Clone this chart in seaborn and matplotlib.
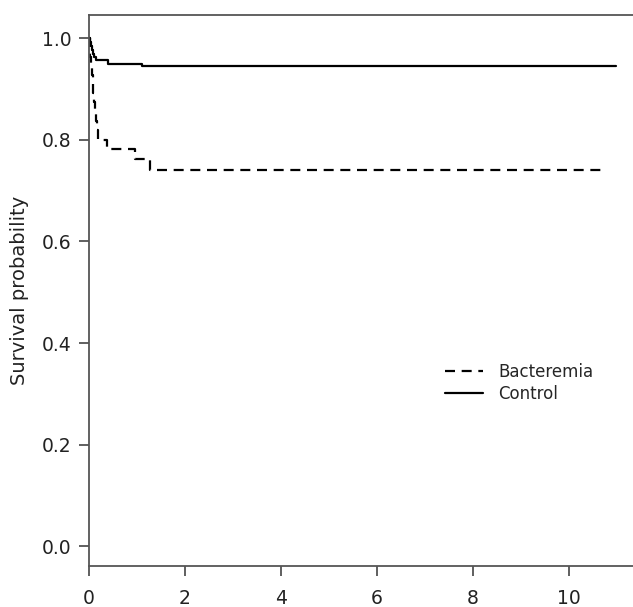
import matplotlib
matplotlib.use("Agg")
import matplotlib.pyplot as plt
import seaborn as sns
import pandas as pd

# Bacteremia Kaplan-Meier steps
bac_time = [0.0, 0.015, 0.03, 0.045, 0.06, 0.075, 0.09, 0.105, 0.12, 0.14, 0.16, 0.19,
            0.38, 0.95, 1.28, 10.7]
bac_surv = [1.0, 0.982, 0.964, 0.946, 0.928, 0.91, 0.892, 0.874, 0.856, 0.838, 0.82, 0.80,
            0.782, 0.763, 0.741, 0.741]

# Control Kaplan-Meier steps
ctl_time = [0.0, 0.02, 0.04, 0.06, 0.08, 0.11, 0.15, 0.40, 1.10, 10.98]
ctl_surv = [1.0, 0.993, 0.985, 0.978, 0.970, 0.963, 0.957, 0.950, 0.945, 0.945]

groups = ["Bacteremia", "Control"]
x_ticks = [0, 2, 4, 6, 8, 10]
y_ticks = [0.0, 0.2, 0.4, 0.6, 0.8, 1.0]

df = pd.concat([
    pd.DataFrame({"time": bac_time, "surv": bac_surv, "group": groups[0]}),
    pd.DataFrame({"time": ctl_time, "surv": ctl_surv, "group": groups[1]}),
], ignore_index=True)

sns.set_style("white")
plt.rcParams["font.family"] = ["DejaVu Sans"]

fig = plt.figure(figsize=(6.33, 6.07), dpi=100)
ax = fig.add_axes([89/633, 1 - 566/607, 1 - 89/633, (566 - 15)/607])

sns.lineplot(data=df, x="time", y="surv", style="group", style_order=groups,
             dashes={"Bacteremia": (4.5, 3.0), "Control": ""},
             color="black", linewidth=1.6, drawstyle="steps-post",
             estimator=None, ax=ax)

ax.set_xlim(0, 11.33)
ax.set_ylim(-0.039, 1.046)
ax.set_xticks(x_ticks)
ax.set_xticklabels([str(v) for v in x_ticks])
ax.set_yticks(y_ticks)
ax.set_yticklabels([f"{v:.1f}" for v in y_ticks])
ax.set_xlabel("")
ax.set_ylabel("Survival probability", fontsize=14, color="#222222", labelpad=9)
ax.tick_params(axis="both", direction="out", length=7.5, width=1.2, color="#444444",
               labelsize=13.5, labelcolor="#222222", bottom=True, left=True, pad=5)
ax.tick_params(axis="x", pad=9)
for side in ["left", "top", "bottom"]:
    ax.spines[side].set_color("#555555")
    ax.spines[side].set_linewidth(1.3)
ax.spines["right"].set_visible(False)

leg = ax.legend(loc="upper left", bbox_to_anchor=((438 - 89)/544, 1 - (356 - 15)/551),
                frameon=False, fontsize=12, handlelength=2.3, handletextpad=0.9,
                labelspacing=0.25, borderaxespad=0)
for line in leg.get_lines():
    line.set_linewidth(1.6)

fig.savefig("out.png", dpi=100)
